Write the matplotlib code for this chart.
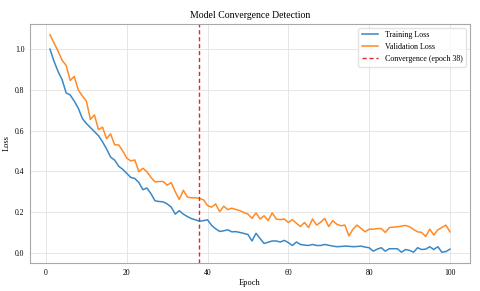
import numpy as np
import matplotlib
matplotlib.use("Agg")
import matplotlib.pyplot as plt

plt.rcParams['font.family'] = ['Liberation Serif', 'DejaVu Serif']

epochs = np.arange(1, 101)
train_loss = [
    1.00, 0.94, 0.89, 0.85, 0.785, 0.775, 0.745, 0.71, 0.66, 0.635,
    0.615, 0.595, 0.575, 0.545, 0.51, 0.47, 0.455, 0.425, 0.41, 0.39,
    0.37, 0.365, 0.345, 0.31, 0.318, 0.29, 0.255, 0.252, 0.25, 0.24,
    0.225, 0.19, 0.207, 0.19, 0.178, 0.168, 0.162, 0.155, 0.158, 0.162,
    0.135, 0.118, 0.105, 0.108, 0.113, 0.103, 0.104, 0.10, 0.095, 0.09,
    0.058, 0.096, 0.07, 0.046, 0.052, 0.058, 0.058, 0.053, 0.061, 0.05,
    0.036, 0.053, 0.041, 0.038, 0.036, 0.041, 0.036, 0.036, 0.041, 0.037,
    0.033, 0.03, 0.031, 0.033, 0.032, 0.03, 0.031, 0.033, 0.028, 0.025,
    0.008, 0.018, 0.025, 0.008, 0.02, 0.02, 0.02, 0.003, 0.016, 0.012,
    0.003, 0.025, 0.016, 0.018, 0.03, 0.016, 0.03, 0.003, 0.006, 0.018,
]
val_loss = [
    1.07, 1.03, 0.99, 0.945, 0.92, 0.846, 0.866, 0.80, 0.77, 0.745,
    0.655, 0.677, 0.605, 0.617, 0.56, 0.584, 0.53, 0.53, 0.50, 0.465,
    0.451, 0.456, 0.398, 0.415, 0.398, 0.37, 0.348, 0.35, 0.35, 0.332,
    0.345, 0.30, 0.262, 0.307, 0.274, 0.27, 0.27, 0.267, 0.26, 0.232,
    0.224, 0.24, 0.202, 0.229, 0.212, 0.219, 0.213, 0.207, 0.198, 0.19,
    0.169, 0.196, 0.166, 0.182, 0.158, 0.196, 0.166, 0.163, 0.166, 0.149,
    0.163, 0.145, 0.129, 0.149, 0.124, 0.166, 0.136, 0.15, 0.169, 0.129,
    0.158, 0.14, 0.133, 0.136, 0.083, 0.116, 0.136, 0.12, 0.103, 0.116,
    0.116, 0.119, 0.119, 0.10, 0.124, 0.126, 0.128, 0.131, 0.134, 0.128,
    0.115, 0.103, 0.10, 0.08, 0.116, 0.087, 0.113, 0.124, 0.136, 0.103,
]
conv_epoch = 38

fig = plt.figure(figsize=(4.8, 2.91), dpi=100)
ax = fig.add_axes([0.0625, 0.096, 0.9165, 0.8215])

ax.plot(epochs, train_loss, color='#3a88c5', lw=1.1, label='Training Loss')
ax.plot(epochs, val_loss, color='#ff8a26', lw=1.1, label='Validation Loss')
ax.axvline(conv_epoch, color='#e8232a', ls='--', lw=1.0, dashes=(3, 2),
           label=f'Convergence (epoch {conv_epoch})')

ax.set_title('Model Convergence Detection', fontsize=7, pad=4)
ax.set_xlabel('Epoch', fontsize=6, labelpad=2)
ax.set_ylabel('Loss', fontsize=6, labelpad=3)
ax.tick_params(labelsize=5.5, length=0, pad=4)
ax.grid(True, color='#e2e2e2', lw=0.6)
for s in ax.spines.values():
    s.set_color('#a8a8a8')
    s.set_linewidth(0.8)

ax.legend(loc='upper right', fontsize=5.8, frameon=True, edgecolor='#dddddd',
          handlelength=2.1)

fig.savefig('out.png', dpi=100)
